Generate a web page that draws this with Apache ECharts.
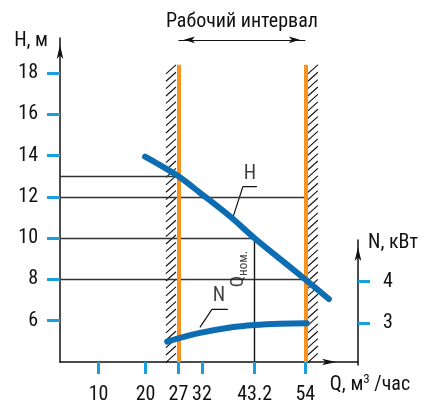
<!DOCTYPE html>
<html><head><meta charset="utf-8">
<script src="https://cdn.jsdelivr.net/npm/echarts@6/dist/echarts.min.js"></script>
<style>html,body{margin:0;padding:0;background:#fff}#c{width:424px;height:405px}</style>
</head><body><div id="c"></div>
<script>
// ---- data ----
const qTicks = [10, 20, 27, 32, 43.2, 54];
const hTicks = [6, 8, 10, 12, 14, 16, 18];
const nTicks = [3, 4];
const hQ = [19.9, 23, 27, 31.6, 38, 43.2, 48.6, 54, 59];
const hH = [13.95, 13.55, 13.0, 12.2, 11.05, 10.0, 9.0, 8.0, 7.05];
const nQ = [24.6, 27, 31.6, 38, 43.2, 48.6, 54.3];
const nN = [2.56, 2.64, 2.77, 2.9, 2.96, 2.99, 3.0];
const workQ = [27, 54];
const refH = [13, 12, 10, 8];
const refQEnd = [27, 54, 43.2, 54];
const qNom = 43.2;
const hNom = 10;

// ---- axis ranges ----
const QMIN = 1.8, QMAX = 65.2, HMIN = 4, HMAX = 19.7, NMIN = 2, NMAX = 5;
const ORANGE_TOP = 18.4, DIM_H = 19.61, EXT_TOP = 19.95;

const F = "'Roboto Condensed','Liberation Sans Narrow','DejaVu Sans Condensed',sans-serif";
const FS = 20;
const BLUE = '#0c6db3', TICK = '#1a9fdc', ORANGE = '#f7931e', INK = '#111';

const chart = echarts.init(document.getElementById('c'), null, {renderer: 'canvas'});

const zip = (a, b) => a.map((v, i) => [v, b[i]]);

function hatch(params, api) {
  const q = api.value(0), side = api.value(1);
  const top = api.coord([q, ORANGE_TOP]);
  const bot = api.coord([q, HMIN]);
  const x0 = side < 0 ? top[0] - 12.5 : top[0] + 2.5;
  const children = [];
  for (let y = top[1]; y + 9 <= bot[1] + 0.5; y += 7.4) {
    children.push({type: 'line', shape: {x1: x0, y1: y + 9, x2: x0 + 10, y2: y},
      style: {stroke: INK, lineWidth: 1.1}});
  }
  return {type: 'group', children};
}

const tickLabel = {fontSize: FS, color: INK, fontFamily: F};

const option = {
  animation: false,
  backgroundColor: '#fff',
  grid: [
    {left: 60, right: 66, top: 38, bottom: 40},
    {left: 60, right: 66, top: 240, bottom: 40}
  ],
  xAxis: [
    {type: 'value', gridIndex: 0, min: QMIN, max: QMAX,
      axisLine: {show: true, lineStyle: {color: INK, width: 1.5}, symbol: ['none', 'arrow'], symbolSize: [5, 14], symbolOffset: [0, -22]},
      axisTick: {show: true, customValues: qTicks, length: 12, lineStyle: {color: TICK, width: 3}},
      axisLabel: Object.assign({customValues: qTicks, margin: 23, formatter: v => String(v)}, tickLabel),
      splitLine: {show: false},
      name: '{a|Q, м}{s|3}{a| /час}', nameLocation: 'end', nameGap: 12,
      nameTextStyle: {align: 'center', verticalAlign: 'middle', padding: [46, 0, 0, 0],
        rich: {a: {fontSize: FS, fontFamily: F, color: INK, lineHeight: 24}, s: {fontSize: 13, fontFamily: F, color: INK, verticalAlign: 'top', lineHeight: 24}}}
    },
    {type: 'value', gridIndex: 1, min: QMIN, max: QMAX, show: false}
  ],
  yAxis: [
    {type: 'value', gridIndex: 0, min: HMIN, max: HMAX,
      axisLine: {show: true, lineStyle: {color: INK, width: 1.5}, symbol: ['none', 'arrow'], symbolSize: [5, 14], symbolOffset: [0, -7]},
      axisTick: {show: true, customValues: hTicks, length: 13, lineStyle: {color: TICK, width: 3}},
      axisLabel: Object.assign({customValues: hTicks, margin: 22}, tickLabel),
      splitLine: {show: false},
      name: 'H, м', nameLocation: 'end', nameGap: -3,
      nameTextStyle: {align: 'right', verticalAlign: 'middle', padding: [0, 12, 0, 0], fontSize: FS, fontFamily: F, color: INK}
    },
    {type: 'value', gridIndex: 1, min: NMIN, max: NMAX, position: 'right',
      axisLine: {show: true, lineStyle: {color: INK, width: 1.5}, symbol: ['none', 'arrow'], symbolSize: [5, 14], symbolOffset: [0, -7]},
      axisTick: {show: true, customValues: nTicks, length: 12, lineStyle: {color: TICK, width: 3}},
      axisLabel: Object.assign({customValues: nTicks, margin: 25}, tickLabel),
      splitLine: {show: false},
      name: 'N, кВт', nameLocation: 'end', nameGap: -3,
      nameTextStyle: {align: 'left', verticalAlign: 'middle', padding: [0, 0, 0, 10], fontSize: FS, fontFamily: F, color: INK}
    }
  ],
  series: [
    {type: 'line', xAxisIndex: 0, yAxisIndex: 0, data: [], clip: false, silent: true, z: 2,
      markLine: {
        silent: true, symbol: 'none', animation: false,
        label: {show: false},
        data: [
          ...refH.map((h, i) => [{coord: [QMIN, h], lineStyle: {color: '#333', width: 1.4}}, {coord: [refQEnd[i], h]}]),
          [{coord: [qNom, HMIN], lineStyle: {color: INK, width: 1.4}}, {coord: [qNom, hNom]}],
          ...workQ.map(q => [{coord: [q, HMIN], lineStyle: {color: ORANGE, width: 4}}, {coord: [q, ORANGE_TOP]}]),
          ...workQ.map(q => [{coord: [q, ORANGE_TOP], lineStyle: {color: INK, width: 1.2}}, {coord: [q, EXT_TOP]}])
        ],
        lineStyle: {type: 'solid'}
      }
    },
    {type: 'line', xAxisIndex: 0, yAxisIndex: 0, data: [], clip: false, silent: true, z: 3,
      markLine: {
        silent: true, animation: false,
        symbol: ['arrow', 'arrow'], symbolSize: [5, 11], symbolOffset: [[0, 5.5], [0, 5.5]],
        lineStyle: {color: INK, width: 1.2, type: 'solid'},
        label: {show: true, position: 'insideMiddleTop', distance: 8, formatter: 'Рабочий интервал', fontSize: FS, fontFamily: F, color: INK},
        data: [[{coord: [workQ[0], DIM_H]}, {coord: [workQ[1], DIM_H]}]]
      }
    },
    {type: 'custom', xAxisIndex: 0, yAxisIndex: 0, renderItem: hatch, data: workQ.map((q, i) => [q, i === 0 ? -1 : 1]), z: 2, silent: true},
    {type: 'line', xAxisIndex: 0, yAxisIndex: 0, data: [[43.69, 12.5], [40.71, 12.5], [38.59, 11.01]], symbol: 'none', clip: false, silent: true, z: 4,
      lineStyle: {color: INK, width: 1.2}},
    {type: 'line', xAxisIndex: 0, yAxisIndex: 0, data: [[37.52, 6.55], [34.12, 6.55], [31.57, 5.68]], symbol: 'none', clip: false, silent: true, z: 4,
      lineStyle: {color: INK, width: 1.2}},
    {type: 'line', name: 'H', xAxisIndex: 0, yAxisIndex: 0, data: zip(hQ, hH), smooth: 0.35, symbol: 'none', clip: false, z: 6,
      lineStyle: {color: BLUE, width: 6, cap: 'round'}},
    {type: 'line', name: 'N', xAxisIndex: 1, yAxisIndex: 1, data: zip(nQ, nN), smooth: 0.35, symbol: 'none', clip: false, z: 6,
      lineStyle: {color: BLUE, width: 6, cap: 'round'}},
    {type: 'scatter', xAxisIndex: 0, yAxisIndex: 0, symbolSize: 1, itemStyle: {color: 'rgba(0,0,0,0)'}, silent: true, z: 7,
      label: {show: true, position: 'inside', formatter: p => p.value[2], fontSize: FS, fontFamily: F, color: INK},
      data: [[42.2, 13.1, 'H'], [35.6, 7.2, 'N']]},
    {type: 'scatter', xAxisIndex: 0, yAxisIndex: 0, symbolSize: 1, itemStyle: {color: 'rgba(0,0,0,0)'}, silent: true, z: 7,
      label: {show: true, position: 'inside', rotate: 90, formatter: '{q|Q}{s|ном.}',
        rich: {q: {fontSize: 19, fontFamily: F, color: INK, verticalAlign: 'top', lineHeight: 22}, s: {fontSize: 13, fontFamily: F, color: INK, verticalAlign: 'bottom', lineHeight: 22}}},
      data: [[40.0, 8.5]]}
  ]
};
chart.setOption(option);
</script></body></html>
